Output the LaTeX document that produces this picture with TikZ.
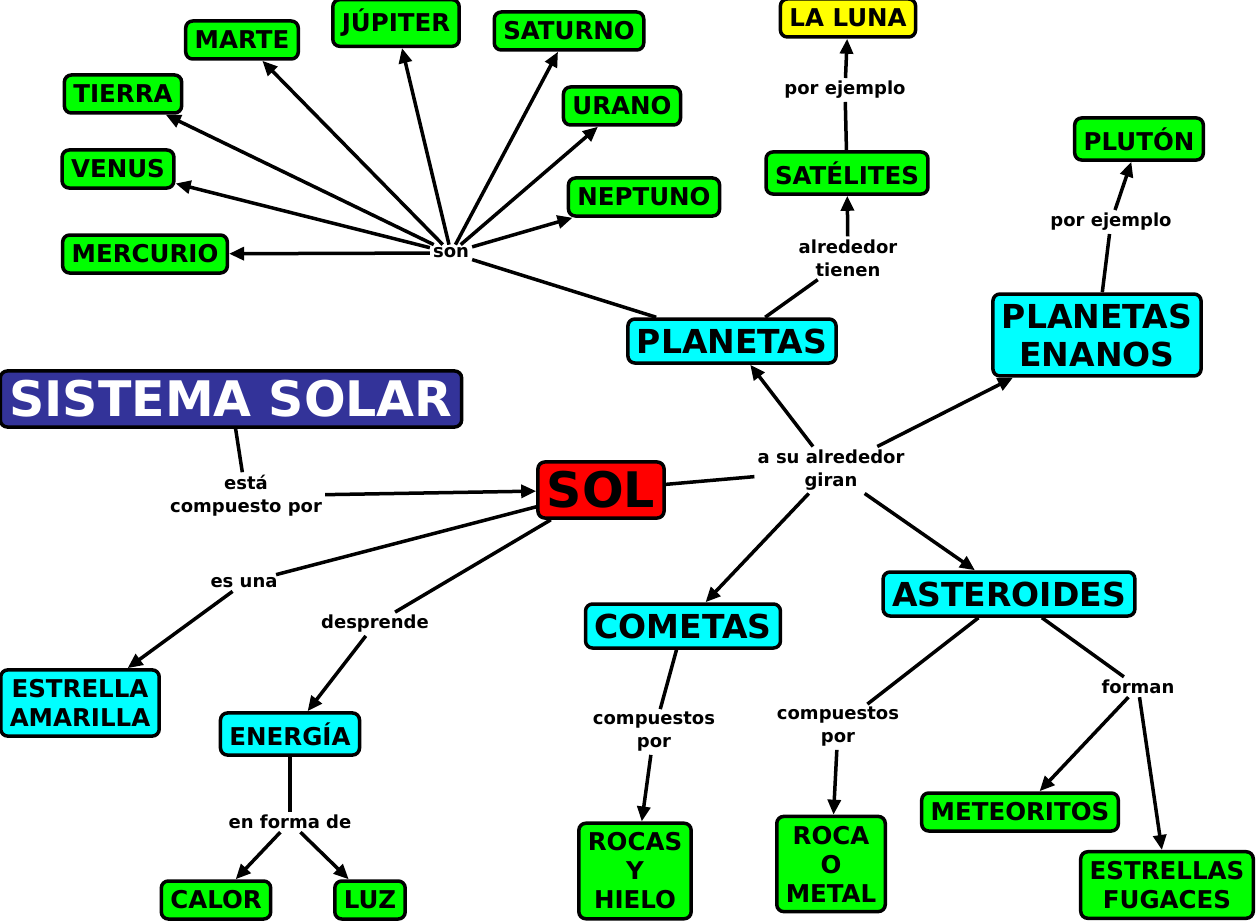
\documentclass[tikz,border=0pt]{standalone}
\usepackage{fontspec}
\setmainfont{DejaVu Sans}
\usetikzlibrary{arrows.meta}

\definecolor{verde}{RGB}{0,255,0}
\definecolor{celeste}{RGB}{0,255,255}
\definecolor{rojo}{RGB}{255,0,0}
\definecolor{amarillo}{RGB}{255,255,0}
\definecolor{azul}{RGB}{51,51,153}

\begin{document}
\begin{tikzpicture}[x=1pt, y=-1pt,
  concepto/.style={draw=black, line width=3.5pt, rounded corners=7pt, align=center, inner xsep=9pt, inner ysep=9.5pt},
  chico/.style={font=\fontsize{24.5}{29}\selectfont\bfseries, minimum height=38pt},
  medio/.style={font=\fontsize{33}{38}\selectfont\bfseries, minimum height=44pt},
  grande/.style={font=\fontsize{49}{56}\selectfont\bfseries, minimum height=55pt},
  enlace/.style={font=\fontsize{18}{23}\selectfont\bfseries, align=center, inner sep=3pt},
  linea/.style={line width=3.5pt},
  flecha/.style={line width=3.5pt, -{Triangle[length=15pt,width=13pt]}}
]
\useasboundingbox (0,0) rectangle (1256,923);

% Conceptos principales
\node[concepto, grande, fill=azul, text=white] (sistema) at (231,399) {SISTEMA SOLAR};
\node[concepto, grande, fill=rojo] (sol) at (601,490) {SOL};
\node[concepto, medio, fill=celeste] (planetas) at (732,341) {PLANETAS};
\node[concepto, medio, fill=celeste] (enanos) at (1097,335) {PLANETAS\\ENANOS};
\node[concepto, medio, fill=celeste] (cometas) at (683,626) {COMETAS};
\node[concepto, medio, fill=celeste] (asteroides) at (1009,594) {ASTEROIDES};
\node[concepto, chico, fill=celeste] (estrella) at (80,703) {ESTRELLA\\AMARILLA};
\node[concepto, chico, fill=celeste] (energia) at (290,734) {ENERGÍA};

% Planetas
\node[concepto, chico, fill=verde] (mercurio) at (145,254) {MERCURIO};
\node[concepto, chico, fill=verde] (venus) at (118,169) {VENUS};
\node[concepto, chico, fill=verde] (tierra) at (123,94) {TIERRA};
\node[concepto, chico, fill=verde] (marte) at (242,40) {MARTE};
\node[concepto, chico, fill=verde] (jupiter) at (396,23) {JÚPITER};
\node[concepto, chico, fill=verde] (saturno) at (569,31) {SATURNO};
\node[concepto, chico, fill=verde] (urano) at (622,106) {URANO};
\node[concepto, chico, fill=verde] (neptuno) at (644,197) {NEPTUNO};

% Otros conceptos
\node[concepto, chico, fill=verde] (satelites) at (847,173) {SATÉLITES};
\node[concepto, chico, fill=amarillo] (luna) at (848,18) {LA LUNA};
\node[concepto, chico, fill=verde] (pluton) at (1139,139) {PLUTÓN};
\node[concepto, chico, fill=verde] (calor) at (216,900) {CALOR};
\node[concepto, chico, fill=verde] (luz) at (370,900) {LUZ};
\node[concepto, chico, fill=verde] (rocas) at (635,871) {ROCAS\\Y\\HIELO};
\node[concepto, chico, fill=verde] (roca) at (831,864) {ROCA\\O\\METAL};
\node[concepto, chico, fill=verde] (meteoritos) at (1020,812) {METEORITOS};
\node[concepto, chico, fill=verde] (fugaces) at (1167,885) {ESTRELLAS\\FUGACES};

% Palabras de enlace
\node[enlace] (compuesto) at (246,496) {está\\compuesto por};
\node[enlace] (giran) at (831,470) {a su alrededor\\giran};
\node[enlace] (esuna) at (244,583) {es una};
\node[enlace] (desprende) at (375,624) {desprende};
\node[enlace] (forma) at (290,822) {en forma de};
\node[enlace] (son) at (451,253) {son};
\node[enlace] (tienen) at (848,258) {alrededor\\tienen};
\node[enlace] (ejluna) at (845,90) {por ejemplo};
\node[enlace] (ejpluton) at (1111,222) {por ejemplo};
\node[enlace] (compcom) at (654,732) {compuestos\\por};
\node[enlace] (compast) at (838,727) {compuestos\\por};
\node[enlace] (forman) at (1138,687) {forman};

% Conexiones
\draw[linea] (sistema) -- (compuesto);
\draw[flecha] (compuesto) -- (sol);

\draw[linea] (sol) -- (giran);
\draw[flecha] (giran) -- (planetas);
\draw[flecha] (giran) -- (enanos);
\draw[flecha] (giran) -- (cometas);
\draw[flecha] (giran) -- (asteroides);

\draw[linea] (sol) -- (esuna);
\draw[flecha] (esuna) -- (estrella);
\draw[linea] (sol) -- (desprende);
\draw[flecha] (desprende) -- (energia);
\draw[linea] (energia) -- (forma);
\draw[flecha] (forma) -- (calor);
\draw[flecha] (forma) -- (luz);

\draw[linea] (planetas) -- (son);
\draw[flecha] (son) -- (mercurio);
\draw[flecha] (son) -- (venus);
\draw[flecha] (son) -- (tierra);
\draw[flecha] (son) -- (marte);
\draw[flecha] (son) -- (jupiter);
\draw[flecha] (son) -- (saturno);
\draw[flecha] (son) -- (urano);
\draw[flecha] (son) -- (neptuno);

\draw[linea] (planetas) -- (tienen);
\draw[flecha] (tienen) -- (satelites);
\draw[linea] (satelites) -- (ejluna);
\draw[flecha] (ejluna) -- (luna);
\draw[linea] (enanos) -- (ejpluton);
\draw[flecha] (ejpluton) -- (pluton);

\draw[linea] (cometas) -- (compcom);
\draw[flecha] (compcom) -- (rocas);
\draw[linea] (asteroides) -- (compast);
\draw[flecha] (compast) -- (roca);
\draw[linea] (asteroides) -- (forman);
\draw[flecha] (forman) -- (meteoritos);
\draw[flecha] (forman) -- (fugaces);

\end{tikzpicture}
\end{document}
